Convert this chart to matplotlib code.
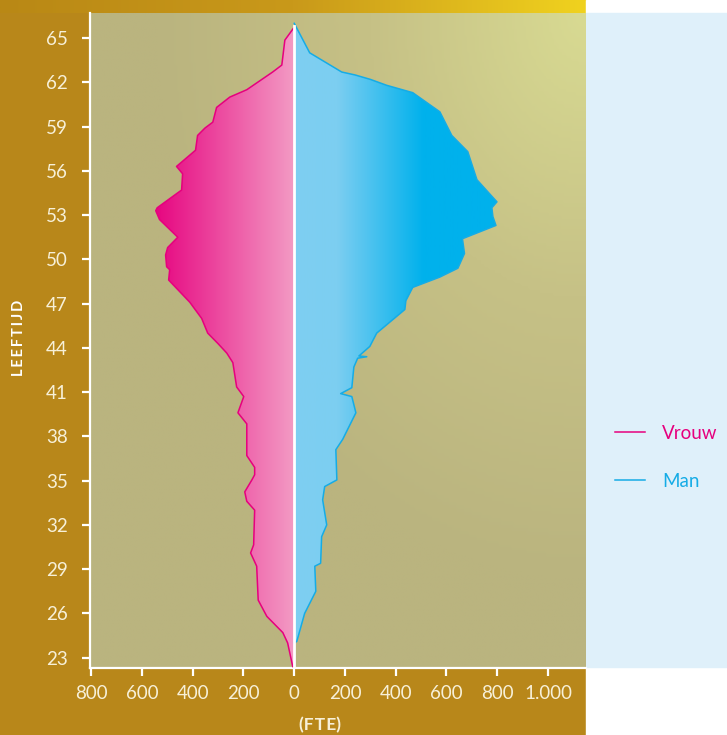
import numpy as np
import matplotlib.pyplot as plt
from matplotlib.colors import LinearSegmentedColormap
from matplotlib.patches import Rectangle, Polygon

plt.rcParams['font.family'] = ['Lato', 'DejaVu Sans']

## data: FTE per age ##
ages_vrouw = [22.4, 24.0, 24.7, 25.8, 26.9, 29.2, 30.1, 30.65, 33.0, 33.6, 34.24, 35.05,
              35.4, 35.9, 36.7, 38.85, 39.6, 40.7, 41.35, 43.0, 43.65, 44.3, 45.0, 46.0,
              47.1, 48.6, 49.3, 49.5, 50.3, 50.8, 51.5, 52.7, 53.3, 53.5, 54.7, 55.8, 56.3,
              57.4, 58.4, 58.9, 59.3, 60.3, 61.0, 61.5, 62.7, 63.17, 64.86, 65.74]
fte_vrouw = [6, 26, 45, 108, 142, 148, 172, 160, 156, 187, 195, 167,
             156, 156, 187, 187, 222, 199, 227, 242, 266, 301, 341, 365,
             412, 495, 491, 503, 507, 499, 459, 531, 546, 540, 444, 440, 464,
             389, 381, 352, 321, 306, 254, 187, 85, 49, 37, 0]

ages_man = [24.0, 24.1, 26.0, 27.5, 29.2, 29.4, 31.2, 32.0, 33.7, 34.6, 35.05, 37.1,
            37.8, 39.6, 40.7, 40.9, 41.3, 42.7, 43.3, 43.4, 43.45, 44.1, 45.0, 46.6,
            47.2, 48.1, 48.8, 49.4, 50.4, 51.4, 52.3, 52.9, 53.5, 53.9, 54.2, 55.4,
            57.3, 58.4, 60.0, 61.3, 61.8, 62.2, 62.5, 62.7, 64.0, 66.0]
fte_man = [0, 10, 41, 85, 81, 104, 108, 128, 112, 120, 168, 164,
           191, 243, 227, 183, 227, 235, 250, 286, 255, 298, 325, 436,
           440, 467, 574, 645, 671, 663, 795, 783, 779, 799, 783, 720,
           684, 621, 574, 467, 364, 300, 240, 187, 61, 0]

yticks = [23, 26, 29, 32, 35, 38, 41, 44, 47, 50, 53, 56, 59, 62, 65]
xticks = [-800, -600, -400, -200, 0, 200, 400, 600, 800, 1000]
xticklabels = ['800', '600', '400', '200', '0', '200', '400', '600', '800', '1.000']

W, H = 727, 735
xlim = (-805, 1150)
ylim = (22.3, 66.7)

fig = plt.figure(figsize=(W / 100, H / 100), dpi=100)
fig.patch.set_facecolor('#b8871a')

## background frame ##
bg = fig.add_axes([0, 0, 1, 1])
bg.set_axis_off()
bg.set_xlim(0, 1)
bg.set_ylim(0, 1)
top_cmap = LinearSegmentedColormap.from_list('top', [(0, '#b98815'), (0.5, '#c9991a'), (1, '#f0d21f')])
bg.imshow(np.linspace(0, 1, 256).reshape(1, -1), cmap=top_cmap, aspect='auto',
          extent=[0, 586 / W, 1 - 13 / H, 1])
bg.add_patch(Rectangle((586 / W, 0), 1, 1, color='white'))
bg.add_patch(Rectangle((586 / W, 68 / H), 1, (667 - 13) / H, color='#dff0fa'))

## main axes ##
ax = fig.add_axes([90 / W, 67 / H, 496 / W, 655 / H])
ax.set_facecolor('none')

# plot area gradient (brighter towards top right)
gx, gy = np.meshgrid(np.linspace(0, 1, 200), np.linspace(0, 1, 200))
dist = np.sqrt((1 - gx) ** 2 + (1 - gy) ** 2)
area_cmap = LinearSegmentedColormap.from_list('area', ['#d8da92', '#c6c186', '#bab47f', '#bab47f'])
ax.imshow(np.clip(dist / 1.3, 0, 1), cmap=area_cmap, origin='lower', aspect='auto',
          extent=[*xlim, *ylim], zorder=0, vmin=0, vmax=1)

# pink fill with horizontal gradient
fv = np.array(fte_vrouw)
av = np.array(ages_vrouw)
poly_v = Polygon(np.column_stack([np.r_[-fv, np.zeros(len(av))], np.r_[av, av[::-1]]]),
                 facecolor='none', edgecolor='none')
ax.add_patch(poly_v)
pink_cmap = LinearSegmentedColormap.from_list('pink', ['#e6007e', '#f39bc4'])
im_v = ax.imshow(np.linspace(0, 1, 256).reshape(1, -1), cmap=pink_cmap, aspect='auto',
                 extent=[-570, 0, *ylim], zorder=1)
im_v.set_clip_path(poly_v)
ax.plot(-fv, av, color='#e6007e', linewidth=1.1, zorder=3, label='Vrouw')

# blue fill with horizontal gradient
fm = np.array(fte_man)
am = np.array(ages_man)
poly_m = Polygon(np.column_stack([np.r_[fm, np.zeros(len(am))], np.r_[am, am[::-1]]]),
                 facecolor='none', edgecolor='none')
ax.add_patch(poly_m)
blue_cmap = LinearSegmentedColormap.from_list('blue', [(0, '#7ecff1'), (0.2, '#7ccef1'),
                                                      (0.6, '#00b1ec'), (1, '#00b1ec')])
im_m = ax.imshow(np.linspace(0, 1, 256).reshape(1, -1), cmap=blue_cmap, aspect='auto',
                 extent=[0, 850, *ylim], zorder=1)
im_m.set_clip_path(poly_m)
ax.plot(fm, am, color='#15ace6', linewidth=1.1, zorder=3, label='Man')

ax.set_xlim(*xlim)
ax.set_ylim(*ylim)

# white zero line
ax.plot([0, 0], [ylim[0], 65.8], color='white', linewidth=2, zorder=4)

## axes styling ##
for s in ['top', 'right']:
    ax.spines[s].set_visible(False)
for s in ['left', 'bottom']:
    ax.spines[s].set_color('white')
    ax.spines[s].set_linewidth(1.6)
ax.set_yticks(yticks)
ax.set_xticks(xticks)
ax.set_xticklabels(xticklabels)
ax.tick_params(axis='both', colors='white', length=6, width=1.6, labelcolor='#f7f0d8',
               labelsize=13.5)
ax.tick_params(axis='y', pad=10)
ax.tick_params(axis='x', pad=6)

fig.text(19 / W, 1 - 338 / H, '\u2009'.join('LEEFTIJD'), rotation=90, color='white',
         fontsize=10.5, fontweight='bold', ha='center', va='center')
fig.text(320 / W, 1 - 725 / H, '(F\u200aT\u200aE)', color='#f7f0d8', fontsize=12.5,
         fontweight='bold', ha='center', va='center')

ax.legend(loc='upper left', bbox_to_anchor=(615 / W, 1 - 425 / H),
          bbox_transform=fig.transFigure, frameon=False, fontsize=13.5,
          handlelength=1.6, handletextpad=0.9, labelspacing=1.65, borderpad=0,
          borderaxespad=0, labelcolor='linecolor')

plt.savefig('out.png', dpi=100, facecolor=fig.get_facecolor())
